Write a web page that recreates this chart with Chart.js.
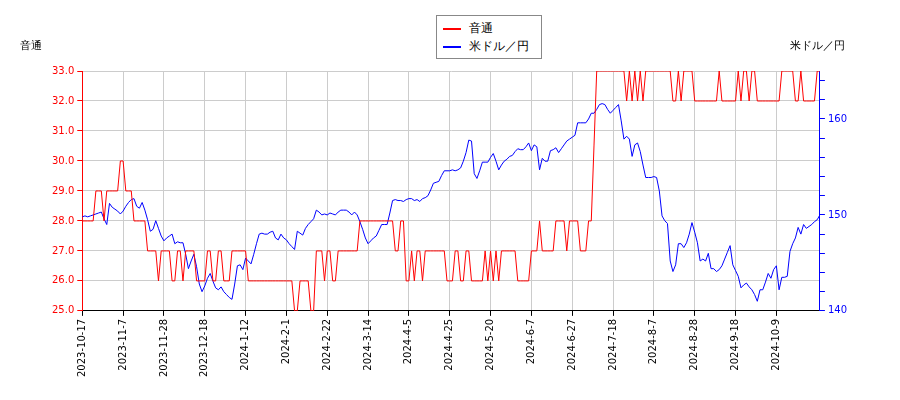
<!DOCTYPE html>
<html>
<head>
<meta charset="utf-8">
<script src="https://cdn.jsdelivr.net/npm/chart.js@4"></script>
<style>
  body { margin: 0; background: #fff; font-family: "DejaVu Sans", sans-serif; }
  #wrap { position: relative; width: 900px; height: 400px; }
  #legend { position: absolute; left: 436px; top: 15px; width: 104px; border: 1px solid #888; background: #fff; font-size: 12px; padding: 3px 0 3px 0; }
  #legend div { height: 18px; line-height: 18px; padding-left: 6px; }
  #legend span { display: inline-block; width: 18px; height: 2px; vertical-align: middle; margin-right: 8px; }
  .ttl { position: absolute; top: 38px; font-size: 11px; color: #000; }
</style>
</head>
<body>
<div id="wrap">
  <canvas id="chart" width="900" height="400"></canvas>
  <div id="legend">
    <div><span style="background:#f00"></span>音通</div>
    <div><span style="background:#00f"></span>米ドル／円</div>
  </div>
  <div class="ttl" style="left:20px">音通</div>
  <div class="ttl" style="left:790px">米ドル／円</div>
</div>
<script>
const tickLabels = ["2023-10-17", "2023-11-7", "2023-11-28", "2023-12-18", "2024-1-12", "2024-2-1",
  "2024-2-22", "2024-3-14", "2024-4-5", "2024-4-25", "2024-5-20", "2024-6-7", "2024-6-27",
  "2024-7-18", "2024-8-7", "2024-8-28", "2024-9-18", "2024-10-9"];

// 音通 (left axis, yen)
const stockPrice = [
  28,28,28,28,28,29,29,29,28,29, 29,29,29,29,30,30,29,29,29,28,
  28,28,28,28,27,27,27,27,26,27, 27,27,27,26,26,27,27,26,27,27,
  27,27,26,26,26,26,27,27,26,26, 27,27,26,26,26,27,27,27,27,27,
  27,26,26,26,26,26,26,26,26,26, 26,26,26,26,26,26,26,26,25,25,
  26,26,26,26,25,25,27,27,27,26, 27,27,26,26,27,27,27,27,27,27,
  27,27,28,28,28,28,28,28,28,28, 28,28,28,28,28,27,27,28,28,26,
  26,27,26,27,27,26,27,27,27,27, 27,27,27,27,26,26,26,27,27,26,
  26,27,27,26,26,26,26,26,27,26, 27,26,27,26,27,27,27,27,27,27,
  26,26,26,26,26,27,27,27,28,27, 27,27,27,27,28,28,28,28,27,28,
  28,28,28,27,27,27,28,28,30.5,33, 33,33,33,33,33,33,33,33,33,33,
  32,33,32,33,32,33,32,33,33,33, 33,33,33,33,33,33,33,32,32,33,
  32,33,33,33,33,32,32,32,32,32, 32,32,32,32,33,32,32,32,32,32,
  32,33,32,33,33,32,33,33,32,32, 32,32,32,32,32,32,32,33,33,33,
  33,33,32,32,33,32,32,32,32,32, 33,33
];

// 米ドル／円 (right axis)
const usdJpy = [
  149.8,149.9,149.8,149.9,150.0,150.1,150.2,150.3,149.6,149.0,
  151.2,150.8,150.6,150.4,150.1,150.4,150.9,151.3,151.6,151.7,
  150.9,150.7,151.3,150.5,149.5,148.3,148.5,149.4,148.6,147.8,
  147.3,147.6,147.8,148.0,147.0,147.2,147.1,147.1,145.9,144.4,
  145.2,145.9,144.6,142.8,142.0,142.6,143.4,143.9,143.1,142.4,
  142.2,142.5,142.0,141.7,141.4,141.2,142.8,144.7,144.8,144.3,
  145.5,145.2,144.9,145.9,147.0,148.0,148.1,148.0,148.0,148.2,
  148.3,147.6,147.4,148.0,147.6,147.4,147.0,146.7,146.4,148.3,
  148.1,147.9,148.6,149.0,149.3,149.6,150.5,150.3,150.0,150.1,
  150.0,150.2,150.1,150.0,150.3,150.5,150.5,150.5,150.3,150.0,
  150.3,150.0,149.3,148.5,147.6,147.0,147.3,147.6,147.8,148.4,
  149.0,149.0,149.0,150.2,151.5,151.6,151.5,151.5,151.4,151.6,
  151.7,151.7,151.5,151.6,151.4,151.7,151.8,152.0,152.6,153.3,
  153.4,153.5,154.1,154.6,154.6,154.6,154.7,154.6,154.7,154.9,
  155.6,156.5,157.8,157.7,154.3,153.8,154.6,155.5,155.5,155.5,
  156.0,156.4,155.6,154.7,155.2,155.6,155.8,156.1,156.2,156.6,
  156.9,156.8,156.8,157.1,157.5,156.7,157.3,157.1,154.7,155.9,
  155.6,155.6,156.7,156.8,157.0,156.5,156.9,157.3,157.7,157.9,
  158.1,158.3,159.6,159.6,159.6,159.6,160.0,160.6,160.6,161.0,
  161.5,161.6,161.5,161.0,160.6,160.9,161.2,161.5,159.8,157.9,
  158.2,157.9,156.1,157.3,157.5,156.6,155.2,153.9,153.9,153.9,
  154.0,153.9,152.5,149.9,149.4,149.1,145.2,144.1,144.8,147.0,
  147.0,146.6,147.1,148.0,149.2,148.2,147.1,145.2,145.4,145.2,
  146.0,144.4,144.4,144.1,144.3,144.7,145.4,146.1,146.8,144.8,
  144.2,143.6,142.4,142.7,142.9,142.5,142.2,141.7,141.0,142.2,
  142.2,143.0,143.9,143.4,144.3,144.7,142.2,143.5,143.5,143.6,
  146.2,147.0,147.6,148.7,148.0,149.0,148.6,148.8,149.0,149.3,
  149.5,150.0
];

const toPoints = (arr) => arr.map((v, i) => ({ x: i, y: v }));
Chart.defaults.font.family = "'DejaVu Sans', sans-serif";
Chart.defaults.font.size = 10;

new Chart(document.getElementById("chart"), {
  type: "line",
  data: {
    datasets: [
      { label: "音通", data: toPoints(stockPrice), borderColor: "#f00", borderWidth: 1, pointRadius: 0, yAxisID: "y", tension: 0 },
      { label: "米ドル／円", data: toPoints(usdJpy), borderColor: "#00f", borderWidth: 1, pointRadius: 0, yAxisID: "y1", tension: 0 },
    ],
  },
  options: {
    responsive: false,
    animation: false,
    layout: { padding: { top: 71, left: 49, right: 50, bottom: 20 } },
    plugins: { legend: { display: false }, tooltip: { enabled: false } },
    scales: {
      x: {
        type: "linear",
        min: 0,
        max: stockPrice.length - 1,
        afterBuildTicks: (axis) => { axis.ticks = tickLabels.map((_, i) => ({ value: i * 15 })); },
        ticks: { autoSkip: false, maxRotation: 90, minRotation: 90, color: "#000", callback: (v) => tickLabels[v / 15] },
        grid: { color: "#ccc", tickColor: "#000", tickLength: 5 },
        border: { color: "#000" },
      },
      y: {
        position: "left",
        min: 25,
        max: 33,
        ticks: { stepSize: 0.5, color: "#f00", callback: (v) => (Number.isInteger(v) ? v.toFixed(1) : "") },
        grid: { color: (c) => (Number.isInteger(c.tick.value) ? "#ccc" : "transparent"), tickColor: "#f00", tickLength: 5 },
        border: { color: "#f00" },
      },
      y1: {
        position: "right",
        min: 140,
        max: 165,
        ticks: { stepSize: 1, color: "#00f", callback: (v) => (v % 5 === 0 ? v : "") },
        grid: { drawOnChartArea: false, tickColor: "#00f", tickLength: 5 },
        border: { color: "#00f" },
      },
    },
  },
});
</script>
</body>
</html>
